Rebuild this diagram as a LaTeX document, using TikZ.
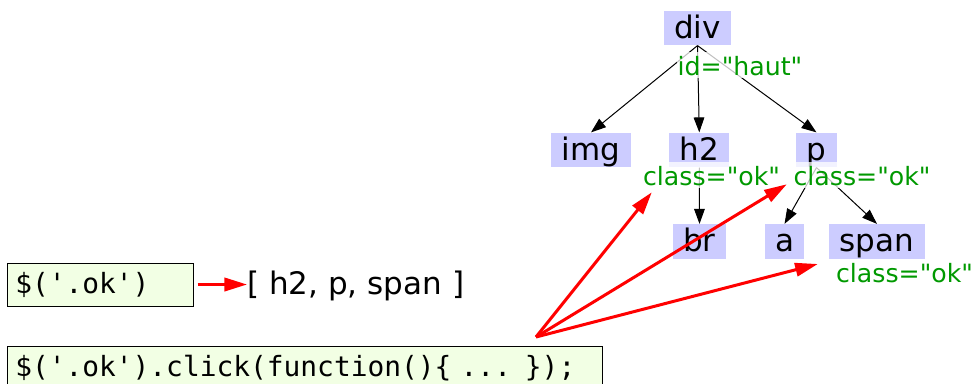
\documentclass[tikz,border=0pt]{standalone}
\usepackage{fontspec}
\setmainfont{DejaVu Sans}[Ligatures=TeXOff]
\setmonofont{DejaVu Sans Mono}
\usetikzlibrary{arrows.meta}
\definecolor{tagblue}{RGB}{204,204,255}
\definecolor{attrgreen}{RGB}{0,153,0}
\definecolor{codebg}{RGB}{242,255,228}
\tikzset{%
  elem/.style     = {shape=rectangle, fill=tagblue,%
                     inner xsep=7.75pt, inner ysep=0pt, minimum height=26pt,%
                     text height=17pt, text depth=2pt,%
                     font=\fontsize{23.25pt}{28pt}\selectfont},%
  attr/.style     = {text=attrgreen, fill=white, fill opacity=0.75, text opacity=1,%
                     inner xsep=0.75pt, inner ysep=0.75pt,%
                     text height=16.5pt, text depth=1.5pt,%
                     font=\fontsize{18.9pt}{23pt}\selectfont},%
  jqcode/.style   = {draw, fill=codebg, anchor=west, align=left,%
                     inner xsep=6pt, inner ysep=0pt, minimum height=32.25pt,%
                     text height=16pt, text depth=2pt,%
                     font=\ttfamily\fontsize{20.9pt}{25pt}\selectfont},%
  result/.style   = {anchor=west, inner sep=0pt, text height=17pt, text depth=2pt,%
                     font=\fontsize{23.25pt}{28pt}\selectfont},%
  domedge/.style  = {-{Triangle[length=11.25pt,width=8pt]}, line width=0.75pt},%
  hitarrow/.style = {-{Triangle[length=17pt,width=10pt]}, red, line width=2.25pt}%
}
\begin{document}
\begin{tikzpicture}[x=0.75pt, y=-0.75pt]
	\useasboundingbox (0,0) rectangle (975,383);
	\node[elem] (div)  at (697.5,28)    {div};
	\node[elem] (img)  at (591,150)     {img};
	\node[elem] (h2)   at (699.3,150)   {h2};
	\node[elem] (p)    at (816.5,150)   {p};
	\node[elem] (br)   at (699.5,241.5) {br};
	\node[elem] (a)    at (784.5,241.5) {a};
	\node[elem] (span) at (877,241.5)   {span};
	\foreach \child in {img,h2,p}
		\draw[domedge] (div.south) -- (\child.north);
	\draw[domedge] (h2.south) -- (br.north);
	\foreach \child in {a,span}
		\draw[domedge] (p.south) -- (\child.north);
	\node[attr] (iddiv)  at (740,65)    {id="haut"};
	\node[attr] (okh)    at (711.5,175) {class="ok"};
	\node[attr] (okp)    at (862,175)   {class="ok"};
	\node[attr] (okspan) at (904.5,272) {class="ok"};
	\node[jqcode, text width=127.5pt] (q1) at (7,284.5) {\$('.ok')};
	\node[jqcode, text width=434.25pt] (q2) at (7,367.5) {\$('.ok').click(function()\{ ... \});};
	\node[result] (res) at (247,284.5) {[ h2, p, span ]};
	\draw[hitarrow] ([xshift=3pt]q1.east) -- (res.west);
	\coordinate (click) at (536,337);
	\draw[hitarrow] (click) -- ([shift={(10,4)}]okh.south west);
	\draw[hitarrow] (click) -- ([shift={(-5.5,-4)}]okp.south west);
	\draw[hitarrow] (click) -- ([shift={(-17,-8)}]okspan.west);
\end{tikzpicture}
\end{document}
